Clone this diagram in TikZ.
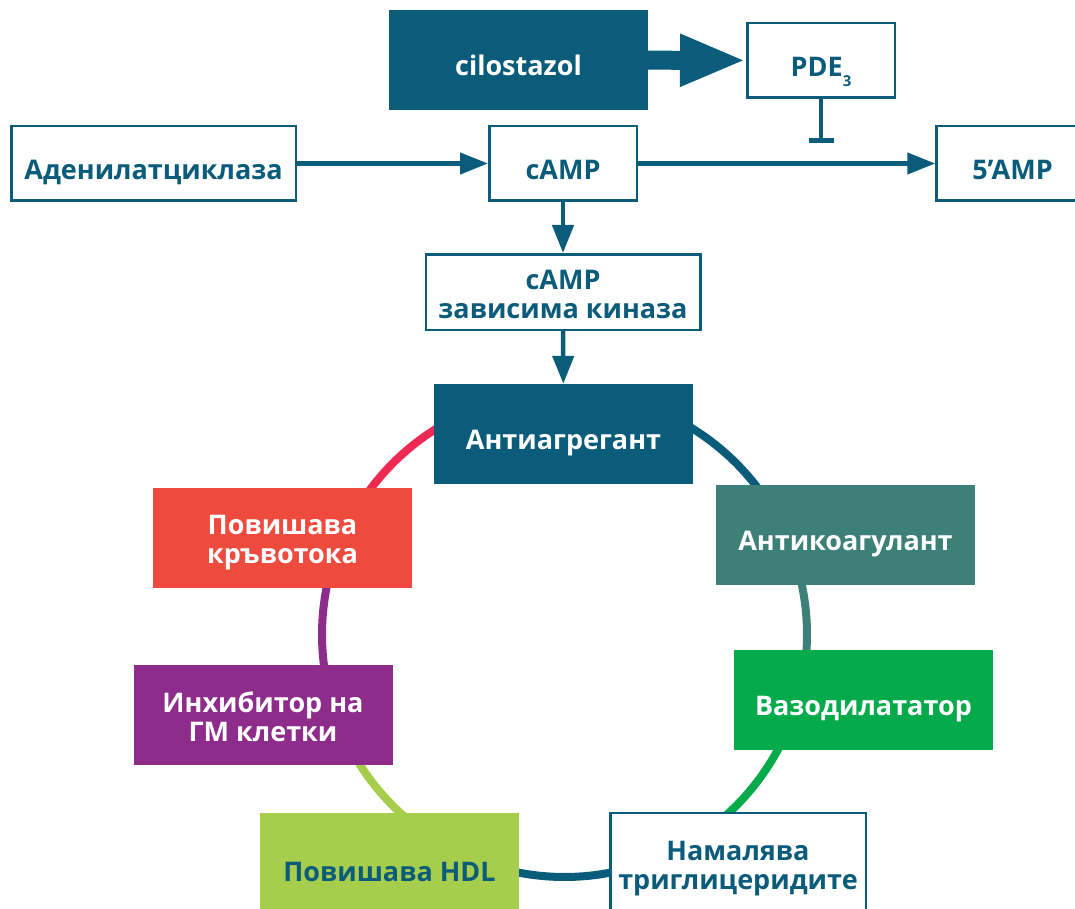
\documentclass[tikz,border=0pt]{standalone}
\usepackage{fontspec}
\setmainfont{Open Sans}
\usetikzlibrary{arrows.meta,positioning}
\definecolor{navy}{HTML}{0B5C7A}
\definecolor{teal}{HTML}{3D8077}
\definecolor{leaf}{HTML}{05AB4B}
\definecolor{coral}{HTML}{EE4B3E}
\definecolor{rose}{HTML}{EE2A53}
\definecolor{plum}{HTML}{8E2C8C}
\definecolor{lime}{HTML}{A6CD4B}
\tikzset{>={Triangle[length=28pt,width=21pt]}}
\tikzstyle{label}=[font=\bfseries\fontsize{27}{29}\selectfont,align=center,inner sep=0pt,
                   execute at begin node={\rule[-5pt]{0pt}{42pt}}]
\tikzstyle{stack}=[execute at begin node={\rule[-5pt]{0pt}{62pt}}]
\tikzstyle{hollow}=[label,rectangle,draw=navy,line width=2.5pt,fill=white,text=navy]
\tikzstyle{filled}=[label,rectangle,text=white,minimum width=259pt,minimum height=100pt]
\tikzstyle{link}=[draw=navy,line width=4.5pt]
\tikzstyle{ring}=[line width=8pt]

\begin{document}
\begin{tikzpicture}[x=1pt,y=1pt]
\def \rad {242.5};
\useasboundingbox (0,0) rectangle (1075,-909);
\clip (0,0) rectangle (1075,-909);

% ring behind the boxes
\coordinate (ctr) at (564.5,-634.5);
\foreach \a/\b/\c in {90/19.5/navy, 19.5/-12.4/teal, -12.4/-52.4/leaf, -52.4/-127.7/navy,
                      -127.7/-165/lime, -165/-199/plum, -199/-270/rose} {
	\draw[ring,\c] (ctr) ++(\a:\rad) arc[start angle=\a,end angle=\b,radius=\rad];
};

% top pathway
\node[filled,fill=navy] (cil) at (518.5,-60) {cilostazol};
\node[hollow,minimum width=147.5pt,minimum height=74.5pt] (pde) at (821,-60.5)
	{PDE\raisebox{-10pt}[0pt][0pt]{\fontsize{15}{15}\selectfont 3}};
\node[hollow,minimum width=284.5pt,minimum height=74.5pt] (adc) at (153.5,-163.5) {Аденилатциклаза};
\node[hollow,minimum width=147.5pt,minimum height=74.5pt] (camp) at (563,-163.5) {cAMP};
\node[hollow,minimum width=152pt,minimum height=74.5pt] (amp) at (1012.5,-163.5) {5’AMP};
\node[hollow,stack,minimum width=274.5pt,minimum height=75.5pt] (kin) at (563,-292) {cAMP\\зависима киназа};
\coordinate (stop) at (821,-143);

\draw[draw=navy,line width=19pt,-{Triangle[length=66pt,width=48pt]}] (cil) -- (pde);
\draw[link,->] (adc) -- (camp);
\draw[link,->] (camp) -- (amp);
\draw[link,-{Bar[width=25pt]}] (pde) -- (stop);
\draw[link,->] (camp) -- (kin);

% effects on the ring
\node[filled,fill=navy] (anti) at (563.5,-434) {Антиагрегант};
\node[filled,fill=teal] (koag) at (845.5,-535) {Антикоагулант};
\node[filled,fill=leaf] (vaz) at (863.5,-700) {Вазодилататор};
\node[hollow,stack,minimum width=255.5pt,minimum height=102pt] (tri) at (738,-864) {Намалява\\триглицеридите};
\node[filled,fill=lime,text=navy,minimum height=104pt] (hdl) at (389.5,-865) {Повишава HDL};
\node[filled,stack,fill=plum] (inh) at (263,-715) {Инхибитор на\\ГМ клетки};
\node[filled,stack,fill=coral] (povk) at (282.5,-538) {Повишава\\кръвотока};

\draw[link,->] (kin) -- (anti);

\end{tikzpicture}
\end{document}
